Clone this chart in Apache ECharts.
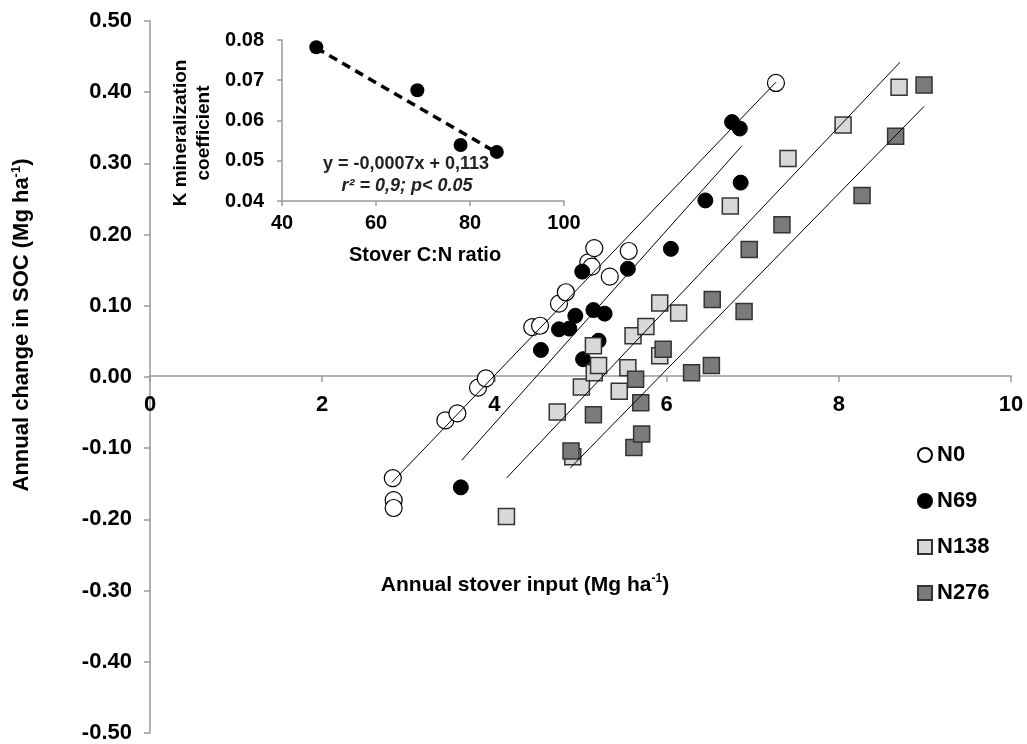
<!DOCTYPE html>
<html>
<head>
<meta charset="utf-8">
<script src="https://cdn.jsdelivr.net/npm/echarts@6/dist/echarts.min.js"></script>
<style>
html, body { margin: 0; padding: 0; background: #fff; }
#chart { width: 1027px; height: 744px; }
</style>
</head>
<body>
<div id="chart"></div>
<script>
// stover input (Mg/ha) and annual SOC change (Mg/ha) per N rate
var n0X = [2.82, 2.83, 2.83, 3.43, 3.57, 3.81, 3.90, 4.44, 4.53, 4.75, 4.83, 5.09, 5.13, 5.16, 5.34, 5.56, 7.27];
var n0Y = [-0.142, -0.173, -0.184, -0.061, -0.051, -0.015, -0.002, 0.070, 0.072, 0.103, 0.119, 0.161, 0.155, 0.181, 0.141, 0.177, 0.413];
var n69X = [3.61, 4.54, 4.75, 4.87, 4.94, 5.03, 5.15, 5.21, 5.28, 5.02, 5.55, 6.05, 6.45, 6.86, 6.76, 6.85];
var n69Y = [-0.155, 0.038, 0.067, 0.068, 0.086, 0.025, 0.094, 0.051, 0.089, 0.148, 0.152, 0.180, 0.248, 0.273, 0.358, 0.349];
var n138X = [4.14, 4.73, 4.91, 5.01, 5.15, 5.16, 5.21, 5.45, 5.55, 5.61, 5.76, 5.92, 5.92, 6.14, 6.74, 7.41, 8.05, 8.70];
var n138Y = [-0.196, -0.049, -0.112, -0.014, 0.044, 0.006, 0.016, -0.020, 0.013, 0.058, 0.071, 0.104, 0.030, 0.090, 0.240, 0.307, 0.354, 0.407];
var n276X = [4.89, 5.15, 5.62, 5.64, 5.70, 5.71, 5.96, 6.29, 6.52, 6.53, 6.90, 6.96, 7.34, 8.27, 8.66, 8.99];
var n276Y = [-0.104, -0.053, -0.099, -0.003, -0.036, -0.080, 0.039, 0.006, 0.016, 0.109, 0.092, 0.179, 0.214, 0.255, 0.338, 0.410];

// fitted lines, end points
var n0LineX = [2.81, 7.27];
var n0LineY = [-0.148, 0.414];
var n69LineX = [3.62, 6.87];
var n69LineY = [-0.117, 0.324];
var n138LineX = [4.14, 8.71];
var n138LineY = [-0.142, 0.442];
var n276LineX = [4.88, 8.99];
var n276LineY = [-0.128, 0.380];

// inset: K mineralization coefficient vs stover C:N
var cnRatio = [47.3, 68.8, 78.0, 85.7];
var kCoef = [0.0782, 0.0675, 0.0539, 0.0522];
var kFitX = [47.3, 85.7];
var kFitY = [0.078, 0.052];

var names = ['N0', 'N69', 'N138', 'N276'];

function pairs(xs, ys) {
    return xs.map(function (x, i) { return [x, ys[i]]; });
}

var FONT = 'Liberation Sans';
var axisCol = '#9a9a9a';
var mainH = 714;

var myChart = echarts.init(document.getElementById('chart'));

function lineSeries(xs, ys) {
    return {
        type: 'line', data: pairs(xs, ys), symbol: 'none', silent: true, z: 5,
        lineStyle: { color: '#000', width: 1 }
    };
}

var option = {
    animation: false,
    backgroundColor: '#fff',
    grid: [
        { left: 150, top: 21, width: 861, height: mainH },
        { left: 282, top: 40, width: 282, height: 161 }
    ],
    xAxis: [{
        // x axis sits at y = 0, i.e. halfway up the -0.5..0.5 range
        type: 'value', gridIndex: 0, min: 0, max: 10, interval: 2, offset: -mainH / 2,
        axisLine: { onZero: false, lineStyle: { color: axisCol, width: 1.5 } },
        axisTick: { length: 6, lineStyle: { color: axisCol, width: 1.5 } },
        splitLine: { show: false },
        axisLabel: { margin: 18, color: '#000', fontSize: 22, fontWeight: 'bold', fontFamily: FONT }
    }, {
        type: 'value', gridIndex: 1, min: 40, max: 100, interval: 20,
        axisLine: { onZero: false, lineStyle: { color: axisCol, width: 1.5 } },
        axisTick: { length: 5, lineStyle: { color: axisCol, width: 1.5 } },
        splitLine: { show: false },
        axisLabel: { margin: 12, color: '#000', fontSize: 20, fontWeight: 'bold', fontFamily: FONT }
    }],
    yAxis: [{
        type: 'value', gridIndex: 0, min: -0.5, max: 0.5, interval: 0.1,
        axisLine: { show: true, onZero: false, lineStyle: { color: axisCol, width: 1.5 } },
        axisTick: { show: true, length: 6, lineStyle: { color: axisCol, width: 1.5 } },
        splitLine: { show: false },
        axisLabel: {
            margin: 18, color: '#000', fontSize: 22, fontWeight: 'bold', fontFamily: FONT,
            formatter: function (v) { return v.toFixed(2); }
        }
    }, {
        type: 'value', gridIndex: 1, min: 0.04, max: 0.08, interval: 0.01,
        axisLine: { show: true, onZero: false, lineStyle: { color: axisCol, width: 1.5 } },
        axisTick: { show: true, length: 5, lineStyle: { color: axisCol, width: 1.5 } },
        splitLine: { show: false },
        axisLabel: {
            margin: 18, color: '#000', fontSize: 20, fontWeight: 'bold', fontFamily: FONT,
            formatter: function (v) { return v.toFixed(2); }
        }
    }],
    legend: {
        data: names, orient: 'vertical', left: 912, top: 439,
        itemWidth: 14, itemHeight: 14, itemGap: 24,
        textStyle: { color: '#000', fontSize: 22, fontWeight: 'bold', fontFamily: FONT }
    },
    series: [
        { name: 'N0', type: 'scatter', data: pairs(n0X, n0Y), symbol: 'circle', symbolSize: 17,
          itemStyle: { color: '#fff', borderColor: '#000', borderWidth: 1.2, opacity: 1 } },
        { name: 'N69', type: 'scatter', data: pairs(n69X, n69Y), symbol: 'circle', symbolSize: 15,
          itemStyle: { color: '#000', borderColor: '#000', borderWidth: 1, opacity: 1 } },
        { name: 'N138', type: 'scatter', data: pairs(n138X, n138Y), symbol: 'rect', symbolSize: 16,
          itemStyle: { color: '#d8d8d8', borderColor: '#333', borderWidth: 1.5, opacity: 1 } },
        { name: 'N276', type: 'scatter', data: pairs(n276X, n276Y), symbol: 'rect', symbolSize: 16,
          itemStyle: { color: '#7b7b7b', borderColor: '#333', borderWidth: 1.5, opacity: 1 } },
        lineSeries(n0LineX, n0LineY),
        lineSeries(n69LineX, n69LineY),
        lineSeries(n138LineX, n138LineY),
        lineSeries(n276LineX, n276LineY),
        { type: 'line', xAxisIndex: 1, yAxisIndex: 1, data: pairs(kFitX, kFitY), symbol: 'none', silent: true,
          lineStyle: { color: '#000', width: 3.5, type: [9, 6] } },
        { type: 'scatter', xAxisIndex: 1, yAxisIndex: 1, data: pairs(cnRatio, kCoef), symbol: 'circle',
          symbolSize: 14, itemStyle: { color: '#000', opacity: 1 }, z: 6 }
    ],
    graphic: [
        { type: 'text', x: 22, y: 325, rotation: Math.PI / 2,
          style: { text: '{b|Annual change in SOC (Mg ha}{s|-1}{b|)}', align: 'center', verticalAlign: 'middle',
                   rich: { b: { fontSize: 22, fontWeight: 'bold', fontFamily: FONT, fill: '#000', lineHeight: 24 },
                           s: { fontSize: 13, fontWeight: 'bold', fontFamily: FONT, fill: '#000', verticalAlign: 'top', lineHeight: 24 } } } },
        { type: 'text', x: 525, y: 585,
          style: { text: '{b|Annual stover input (Mg ha}{s|-1}{b|)}', align: 'center', verticalAlign: 'middle',
                   rich: { b: { fontSize: 21, fontWeight: 'bold', fontFamily: FONT, fill: '#000', lineHeight: 24 },
                           s: { fontSize: 12, fontWeight: 'bold', fontFamily: FONT, fill: '#000', verticalAlign: 'top', lineHeight: 24 } } } },
        { type: 'text', x: 192, y: 133, rotation: Math.PI / 2,
          style: { text: 'K mineralization\ncoefficient', align: 'center', verticalAlign: 'middle', lineHeight: 23,
                   fontSize: 19, fontWeight: 'bold', fontFamily: FONT, fill: '#000' } },
        { type: 'text', x: 425, y: 255,
          style: { text: 'Stover C:N ratio', align: 'center', verticalAlign: 'middle',
                   fontSize: 20, fontWeight: 'bold', fontFamily: FONT, fill: '#000' } },
        { type: 'text', x: 406, y: 164,
          style: { text: 'y = -0,0007x + 0,113', align: 'center', verticalAlign: 'middle',
                   fontSize: 18, fontWeight: 'bold', fontFamily: FONT, fill: '#222' } },
        { type: 'text', x: 407, y: 186,
          style: { text: 'r² = 0,9; p< 0.05', align: 'center', verticalAlign: 'middle',
                   fontSize: 18, fontWeight: 'bold', fontStyle: 'italic', fontFamily: FONT, fill: '#222' } }
    ]
};

myChart.setOption(option);
</script>
</body>
</html>
